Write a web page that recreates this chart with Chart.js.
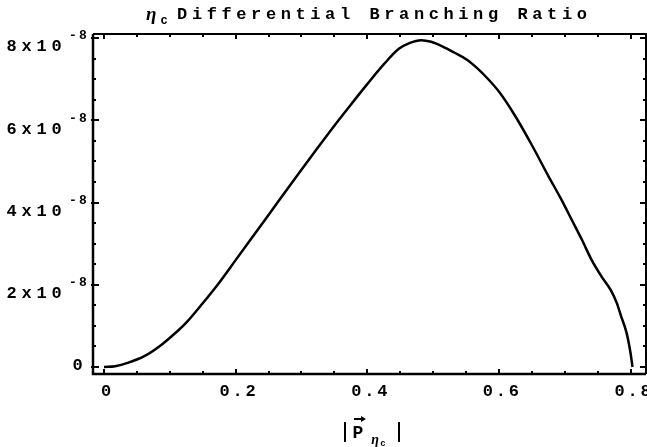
<!DOCTYPE html>
<html>
<head>
<meta charset="utf-8">
<script src="https://cdn.jsdelivr.net/npm/chart.js@4/dist/chart.umd.min.js"></script>
<style>
  html, body { margin: 0; padding: 0; background: #fff; }
  #wrap { width: 647px; height: 447px; }
</style>
</head>
<body>
<div id="wrap"><canvas id="chart" width="647" height="447"></canvas></div>
<script>
// momentum |P| of the eta_c (x) and differential branching ratio (y)
const momentum = [0, 0.017, 0.036, 0.062, 0.088, 0.108, 0.125, 0.15, 0.175, 0.2, 0.225, 0.25, 0.275, 0.3,
    0.325, 0.35, 0.375, 0.4, 0.425, 0.448, 0.464, 0.482, 0.497, 0.514, 0.532, 0.552, 0.567, 0.582, 0.6,
    0.625, 0.65, 0.675, 0.694, 0.711, 0.726, 0.741, 0.756, 0.77, 0.779, 0.786, 0.794, 0.8, 0.803];
const branching = [0, 0.02e-8, 0.1e-8, 0.27e-8, 0.55e-8, 0.82e-8, 1.08e-8, 1.55e-8, 2.05e-8, 2.6e-8, 3.15e-8,
    3.7e-8, 4.25e-8, 4.8e-8, 5.34e-8, 5.87e-8, 6.38e-8, 6.88e-8, 7.36e-8, 7.74e-8, 7.88e-8, 7.95e-8, 7.91e-8,
    7.8e-8, 7.65e-8, 7.47e-8, 7.27e-8, 7.03e-8, 6.7e-8, 6.1e-8, 5.4e-8, 4.65e-8, 4.1e-8, 3.57e-8,
    3.1e-8, 2.6e-8, 2.2e-8, 1.87e-8, 1.56e-8, 1.22e-8, 0.83e-8, 0.34e-8, 0];

const xTicks = [0, 0.2, 0.4, 0.6, 0.8];
const xTickLabels = ['0', '0.2', '0.4', '0.6', '0.8'];
const yTicks = [0, 2e-8, 4e-8, 6e-8, 8e-8];
const yTickMantissa = ['0', '2', '4', '6', '8'];
const xMinorStep = 0.05;
const yMinorStep = 0.5e-8;

const FONT = "'Liberation Mono', 'DejaVu Sans Mono', monospace";

// draw a string one char at a time with a fixed advance (old pixel Courier look)
function drawChars(ctx, str, x, y, size, adv, align) {
    ctx.font = 'bold ' + size + 'px ' + FONT;
    ctx.textBaseline = 'middle';
    ctx.textAlign = 'center';
    const w = str.length * adv;
    let start = x;
    if (align === 'right') start = x - w;
    if (align === 'center') start = x - w / 2;
    for (let i = 0; i < str.length; i++) {
        ctx.fillText(str[i], start + adv * i + adv / 2, y);
    }
    return w;
}

const framePlugin = {
    id: 'frame',
    afterDraw(chart) {
        const ctx = chart.ctx;
        const xs = chart.scales.x, ys = chart.scales.y;
        const a = chart.chartArea;
        ctx.save();
        ctx.fillStyle = '#000';
        ctx.strokeStyle = '#000';

        // frame
        ctx.lineWidth = 2.5;
        ctx.beginPath();
        ctx.moveTo(a.left, a.top);
        ctx.lineTo(a.left, a.bottom);
        ctx.lineTo(a.right, a.bottom);
        ctx.stroke();
        ctx.lineWidth = 2;
        ctx.beginPath();
        ctx.moveTo(a.left, a.top);
        ctx.lineTo(a.right, a.top);
        ctx.lineTo(a.right, a.bottom);
        ctx.stroke();

        // x ticks (inward, bottom and top)
        ctx.lineWidth = 2;
        for (let v = 0; v <= 0.8 + 1e-9; v += xMinorStep) {
            const px = Math.round(xs.getPixelForValue(v));
            const major = xTicks.some(t => Math.abs(t - v) < 1e-6);
            const len = major ? 5 : 3;
            ctx.beginPath();
            ctx.moveTo(px, a.bottom);
            ctx.lineTo(px, a.bottom - len);
            ctx.moveTo(px, a.top);
            ctx.lineTo(px, a.top + len);
            ctx.stroke();
        }
        // y ticks (inward, left and right)
        for (let v = 0; v <= 8e-8 + 1e-15; v += yMinorStep) {
            const py = Math.round(ys.getPixelForValue(v));
            const major = yTicks.some(t => Math.abs(t - v) < 1e-12);
            const len = major ? 6 : 3;
            ctx.beginPath();
            ctx.moveTo(a.left - (major ? 2 : 0), py);
            ctx.lineTo(a.left + len, py);
            ctx.moveTo(a.right, py);
            ctx.lineTo(a.right - len, py);
            ctx.stroke();
        }

        // x tick labels
        xTicks.forEach((v, i) => {
            drawChars(ctx, xTickLabels[i], xs.getPixelForValue(v) + 2, 392, 17, 13, 'center');
        });

        // y tick labels
        yTicks.forEach((v, i) => {
            const py = ys.getPixelForValue(v);
            if (yTickMantissa[i] === '0') {
                drawChars(ctx, '0', 84, py - 1, 17, 13, 'right');
            } else {
                drawChars(ctx, '-8', 88, py - 2, 13, 10, 'right');
                drawChars(ctx, yTickMantissa[i] + 'x10', 64, py + 9, 17, 15, 'right');
            }
        });

        // title
        ctx.font = 'italic bold 19px ' + "'Liberation Serif', serif";
        ctx.textAlign = 'left';
        ctx.textBaseline = 'middle';
        ctx.fillText('\u03b7', 146, 15);
        drawChars(ctx, 'c', 164, 21, 12, 8, 'center');
        drawChars(ctx, 'Differential Branching Ratio', 382, 15, 17, 14.8, 'center');

        // x axis title |P_eta_c|
        ctx.lineWidth = 2;
        ctx.beginPath();
        ctx.moveTo(345, 422); ctx.lineTo(345, 442);
        ctx.moveTo(399, 422); ctx.lineTo(399, 442);
        ctx.stroke();
        drawChars(ctx, 'P', 358, 433, 18, 13, 'center');
        // vector arrow over P
        ctx.beginPath();
        ctx.moveTo(354, 419); ctx.lineTo(364, 419);
        ctx.stroke();
        ctx.beginPath();
        ctx.moveTo(366, 419); ctx.lineTo(361, 416); ctx.lineTo(361, 422); ctx.closePath();
        ctx.fill();
        ctx.font = 'italic bold 14px ' + "'Liberation Serif', serif";
        ctx.textAlign = 'center';
        ctx.fillText('\u03b7', 375, 440);
        drawChars(ctx, 'c', 383, 444, 9, 6, 'center');

        ctx.restore();
    }
};

new Chart(document.getElementById('chart'), {
    type: 'line',
    data: {
        datasets: [{
            data: momentum.map((m, i) => ({ x: m, y: branching[i] })),
            borderColor: '#000',
            borderWidth: 2.5,
            pointRadius: 0,
            fill: false,
            cubicInterpolationMode: 'monotone'
        }]
    },
    options: {
        responsive: false,
        animation: false,
        layout: { padding: { left: 93, right: 1, top: 34, bottom: 73 } },
        plugins: { legend: { display: false }, tooltip: { enabled: false } },
        scales: {
            x: { type: 'linear', display: false, min: -0.0167, max: 0.8235 },
            y: { type: 'linear', display: false, min: -0.17e-8, max: 8.1e-8 }
        }
    },
    plugins: [framePlugin]
});
</script>
</body>
</html>
